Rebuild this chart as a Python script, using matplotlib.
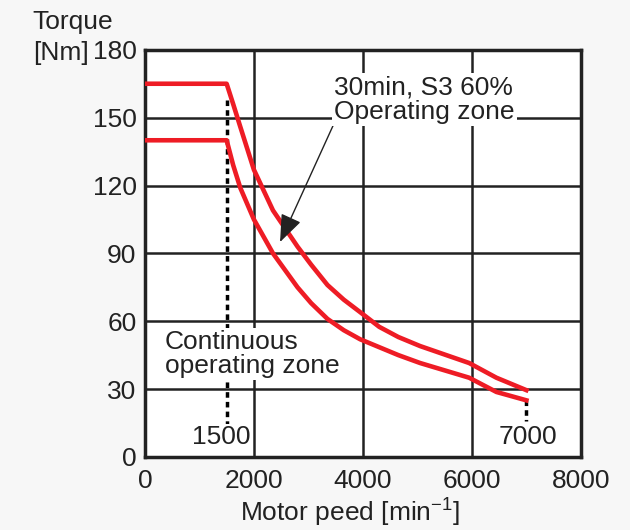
import numpy as np
import matplotlib
matplotlib.use("Agg")
import matplotlib.pyplot as plt

plt.rcParams['font.family'] = ['Liberation Sans', 'DejaVu Sans']

# speed [min^-1] / torque [Nm]
s3_speed = [0, 1500, 1620, 1750, 2000, 2350, 2800, 3050, 3350, 3650, 3950, 4300, 4650, 5050, 5950, 6450, 7000]
s3_torque = [165, 165, 156, 146, 127, 109, 93, 85, 76, 69.5, 64, 57.5, 53, 49, 41.5, 35, 29.5]
cont_speed = [0, 1500, 1620, 1750, 2000, 2350, 2800, 3050, 3350, 3650, 3950, 4300, 4650, 5050, 5950, 6450, 7000]
cont_torque = [140, 140, 129, 119, 105, 90, 75, 68, 61, 56, 52, 48.5, 45, 41.5, 35, 28.7, 25]

xticks = [0, 2000, 4000, 6000, 8000]
yticks = [0, 30, 60, 90, 120, 150, 180]

fs = 19
ink = '#222222'

fig = plt.figure(figsize=(6.3, 5.3), dpi=100, facecolor='#f7f7f7')
ax = fig.add_axes([0.230, 0.138, 0.692, 0.768])
ax.set_facecolor('white')
ax.set_xlim(0, 8000)
ax.set_ylim(0, 180)
ax.set_xticks(xticks)
ax.set_yticks(yticks)
ax.tick_params(length=0, labelsize=fs, colors=ink)
ax.tick_params(axis='x', pad=9)
ax.tick_params(axis='y', pad=6)
ax.grid(True, color=ink, lw=1.8)
ax.set_axisbelow(True)
for sp in ax.spines.values():
    sp.set_linewidth(2.5)
    sp.set_color(ink)

ax.plot(s3_speed, s3_torque, color='#ee1c25', lw=3.3, zorder=3)
ax.plot(cont_speed, cont_torque, color='#ee1c25', lw=3.3, zorder=3)

# dotted markers at 1500 and 7000
ax.plot([1500, 1500], [158, 8.5], color='black', lw=2.5, ls=(0, (1.6, 1.2)), zorder=2)
ax.plot([7000, 7000], [25, 16], color='black', lw=2.5, ls=(0, (1.6, 1.2)), zorder=2)
ax.text(1940, 3.5, '1500', ha='right', va='bottom', fontsize=fs, color=ink,
        bbox=dict(facecolor='white', edgecolor='none', pad=0.3), zorder=2.5)
ax.text(7030, 3.5, '7000', ha='center', va='bottom', fontsize=fs, color=ink,
        bbox=dict(facecolor='white', edgecolor='none', pad=0.3), zorder=2.5)

ax.text(370, 45.5, 'Continuous\noperating zone', ha='left', va='center', fontsize=fs,
        color=ink, linespacing=1.0,
        bbox=dict(facecolor='white', edgecolor='none', pad=1.5), zorder=2.5)
ax.annotate('30min, S3 60%\nOperating zone', xy=(2480, 95), xytext=(3470, 158),
            ha='left', va='center', fontsize=fs, color=ink, linespacing=1.0,
            bbox=dict(facecolor='white', edgecolor='none', pad=1.5),
            arrowprops=dict(arrowstyle='-|>,head_length=0.9,head_width=0.35',
                            color=ink, lw=1, shrinkA=0, shrinkB=0,
                            relpos=(0.0, 0.0)),
            zorder=4)

fig.text(0.052, 0.945, 'Torque', ha='left', va='baseline', fontsize=fs, color=ink)
fig.text(0.052, 0.887, '[Nm]', ha='left', va='baseline', fontsize=fs, color=ink)
fig.text(0.555, 0.018, 'Motor peed [min$^{\\mathregular{-1}}$]', ha='center', va='baseline',
         fontsize=fs, color=ink)

fig.savefig('out.png', dpi=100, facecolor=fig.get_facecolor())
